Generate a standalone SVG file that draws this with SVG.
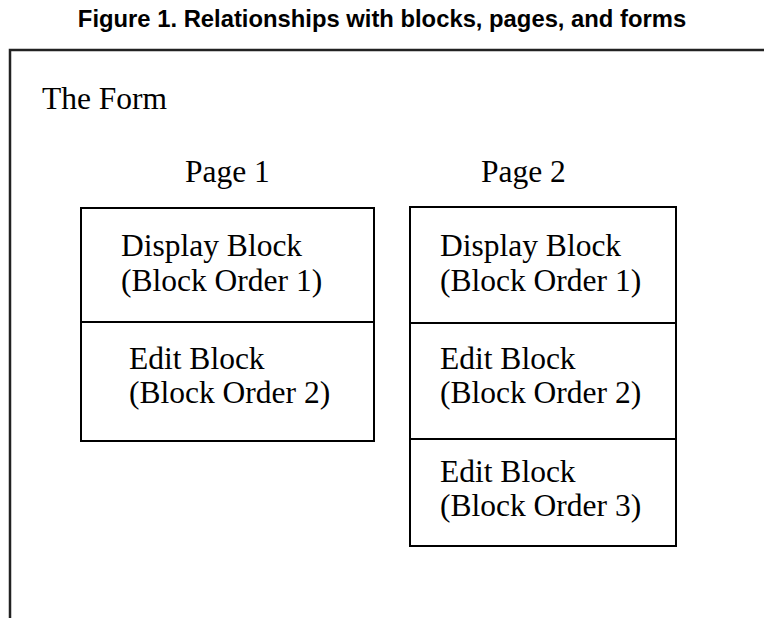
<svg xmlns="http://www.w3.org/2000/svg" width="764" height="618" viewBox="0 0 764 618">
<style>
.title{font-family:"Liberation Sans",Arial,sans-serif;font-weight:bold;font-size:23.8px;fill:#000}
.t{font-family:"Liberation Serif","Times New Roman",serif;font-size:31.5px;fill:#000}
.box{fill:none;stroke:#000;stroke-width:2}
.frame{fill:none;stroke:#222;stroke-width:2.5}
</style>
<rect width="764" height="618" fill="#fff"/>
<text class="title" x="382" y="27" text-anchor="middle">Figure 1. Relationships with blocks, pages, and forms</text>
<g id="form">
<path class="frame" d="M10,618 V50 H764"/>
<text class="t" x="42" y="109">The Form</text>
</g>
<g id="page1">
<text class="t" x="185" y="182">Page 1</text>
<rect class="box" x="81" y="208" width="293" height="233"/>
<line class="box" x1="81" y1="322" x2="374" y2="322"/>
</g>
<g id="p1b1"><text class="t" x="121" y="256">Display Block</text><text class="t" x="121" y="291">(Block Order 1)</text></g>
<g id="p1b2"><text class="t" x="129" y="369">Edit Block</text><text class="t" x="129" y="403">(Block Order 2)</text></g>
<g id="page2">
<text class="t" x="481" y="182">Page 2</text>
<rect class="box" x="410" y="207" width="266" height="339"/>
<line class="box" x1="410" y1="323" x2="676" y2="323"/>
<line class="box" x1="410" y1="439" x2="676" y2="439"/>
</g>
<g id="p2b1"><text class="t" x="440" y="256">Display Block</text><text class="t" x="440" y="291">(Block Order 1)</text></g>
<g id="p2b2"><text class="t" x="440" y="369">Edit Block</text><text class="t" x="440" y="403">(Block Order 2)</text></g>
<g id="p2b3"><text class="t" x="440" y="482">Edit Block</text><text class="t" x="440" y="516">(Block Order 3)</text></g>
<g id="connectors"/>
</svg>
